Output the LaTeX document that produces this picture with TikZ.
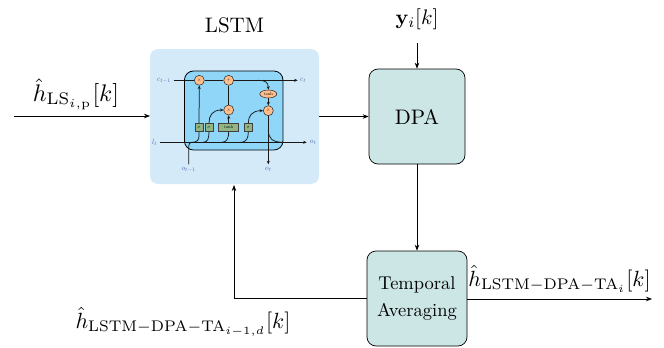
\documentclass[tikz,border=0pt]{standalone}
\usepackage{graphicx}
\usepackage{amsmath}
\usetikzlibrary{arrows.meta,shapes.geometric}
\definecolor{panel}{HTML}{D4EAF9}
\definecolor{cellc}{HTML}{8FD6F8}
\definecolor{blockc}{HTML}{CCE5E5}
\definecolor{opc}{HTML}{FFBE8C}
\definecolor{gatec}{HTML}{93B584}
\definecolor{lbl}{HTML}{5A6AB0}
\newcommand{\lblbig}[1]{\scalebox{2.1}{#1}}
\newcommand{\lblmath}[1]{\scalebox{2.2}{#1}}
\newcommand{\lbltiny}[1]{\scalebox{0.75}{#1}}
\tikzset{
  link/.style={draw=black,line width=0.7pt,-{Stealth[length=6pt,width=4.5pt]}},
  flow/.style={draw=black!90,line width=0.75pt,-{Stealth[length=3.5pt,width=3pt]}},
  plainflow/.style={draw=black!90,line width=0.75pt},
  block/.style={draw=black,line width=0.7pt,fill=blockc,rounded corners=9pt,inner sep=0pt,align=center},
  opnode/.style={circle,draw=black!85,line width=0.5pt,fill=opc,minimum size=10pt,inner sep=0pt},
  gatenode/.style={draw=black!75,line width=0.5pt,fill=gatec,minimum height=8pt,inner sep=0pt},
  tinylabel/.style={text=lbl,inner sep=0pt},
  biglabel/.style={inner sep=0pt},
}
\begin{document}
\begin{tikzpicture}[x=1pt,y=-1pt]
\useasboundingbox (0,0) rectangle (664,348);
% panels
\node[fill=panel,rounded corners=8pt,minimum width=169pt,minimum height=135pt,inner sep=0pt] (panelbox) at (234.5,116.5) {};
\node[draw=black,line width=0.8pt,fill=cellc,rounded corners=9pt,minimum width=98.5pt,minimum height=79pt,inner sep=0pt] (cell) at (233.7,110.5) {};
% blocks
\node[block,minimum width=96pt,minimum height=95pt] (dpa) at (417,116.5) {\lblbig{DPA}};
\node[block,minimum width=100pt,minimum height=95pt] (ta) at (417,298.5) {\scalebox{1.85}{\begin{tabular}{@{}c@{}}Temporal\\[2.5pt]Averaging\end{tabular}}};
% title & labels
\node[inner sep=0pt] (title) at (234.5,25) {\lblbig{LSTM}};
\coordinate (inL) at (14,116);
\coordinate (inR) at (150,116);
\coordinate (yTop) at (417,43);
\coordinate (outEnd) at (652,299);
\coordinate (fbEnd) at (234,185);
\node[biglabel] (hin) at (76,94) {\scalebox{2.4}{$\hat{h}_{\mathrm{LS}_{i,\mathrm{p}}}[k]$}};
\node[biglabel] (yin) at (417,19) {\lblbig{$\mathbf{y}_i[k]$}};
\node[biglabel] (hout) at (559.5,279) {\lblmath{$\hat{h}_{\mathrm{LSTM-DPA-TA}_i}[k]$}};
\node[biglabel] (hfb) at (183,322) {\lblmath{$\hat{h}_{\mathrm{LSTM-DPA-TA}_{i-1,d}}[k]$}};
% main connectors
\draw[link] (inL) -- (inR);
\draw[link] (panelbox.east |- dpa.west) -- (dpa.west);
\draw[link] (yTop) -- (dpa.north);
\draw[link] (dpa.south) -- (ta.north);
\draw[link] (ta.east |- outEnd) -- (outEnd);
\draw[link] (ta.west) -| (fbEnd);
% LSTM internals
\node[opnode] (mulA) at (199.3,80.3) {\scalebox{0.5}{$\times$}};
\node[opnode] (addA) at (228.7,80.3) {\scalebox{0.5}{$+$}};
\node[opnode,ellipse,minimum width=17pt,minimum height=8pt] (tanhO) at (268.3,94) {\scalebox{0.45}{tanh}};
\node[opnode] (mulB) at (228.7,110) {\scalebox{0.5}{$\times$}};
\node[opnode] (mulC) at (268.3,110.7) {\scalebox{0.5}{$\times$}};
\node[gatenode,minimum width=8pt] (sA) at (199,127.3) {\scalebox{0.45}{$\sigma$}};
\node[gatenode,minimum width=8pt] (sB) at (209,127.3) {\scalebox{0.45}{$\sigma$}};
\node[gatenode,minimum width=20pt] (tA) at (228.7,127.3) {\scalebox{0.45}{tanh}};
\node[gatenode,minimum width=8pt] (sC) at (248.3,127.3) {\scalebox{0.45}{$\sigma$}};
\node[tinylabel] (cin) at (164,80.5) {\lbltiny{$c_{t-1}$}};
\node[tinylabel] (cout) at (303,80.5) {\lbltiny{$c_t$}};
\node[tinylabel] (lin) at (154.5,142.5) {\lbltiny{$l_t$}};
\node[tinylabel] (oout) at (313,142.5) {\lbltiny{$o_t$}};
\node[tinylabel] (oprev) at (188.5,169.5) {\lbltiny{$o_{t-1}$}};
\node[tinylabel] (obot) at (268.3,169.5) {\lbltiny{$o_t$}};
\coordinate (cS) at (173.5,80.3);
\coordinate (cE) at (297.7,80.3);
\coordinate (lS) at (160,142.3);
\coordinate (oE) at (306.7,142.3);
\coordinate (oBot) at (268.3,164.3);
\coordinate (pS) at (188.7,164.3);
\draw[plainflow] (cS) -- (mulA) -- (addA);
\draw[flow] (addA) -- (cE);
\draw[flow] (lS) -- (oE);
\draw[flow] (mulC) -- (oBot);
\draw[plainflow] (268.3,130) .. controls (268.3,138) and (272,142.3) .. (283,142.3);
\draw[flow] (sA) -- (mulA);
\draw[plainflow] (sA.south) -- (199,136) .. controls (199,140) and (197,142.3) .. (192,142.3);
\draw[plainflow] (pS) -- (188.7,146) .. controls (188.7,143.5) and (190,142.3) .. (192,142.3);
\draw[plainflow] (sB.south) .. controls (209,138) and (208,142.3) .. (203,142.3);
\draw[plainflow] (tA.south) .. controls (228.7,138) and (227,142.3) .. (222,142.3);
\draw[plainflow] (sC.south) .. controls (248.3,138) and (247,142.3) .. (240,142.3);
\draw[flow] (tA.north) -- (mulB);
\draw[plainflow] (mulB) -- (addA);
\draw[flow] (sB.north) .. controls (209,116) and (212,110) .. (mulB.west);
\draw[flow] (sC.north) .. controls (248.3,116) and (252,110.7) .. (mulC.west);
\draw[flow] (tanhO) -- (mulC);
\draw[flow] (258,80.3) .. controls (265,80.3) and (268.3,82) .. (tanhO.north);
\end{tikzpicture}
\end{document}
